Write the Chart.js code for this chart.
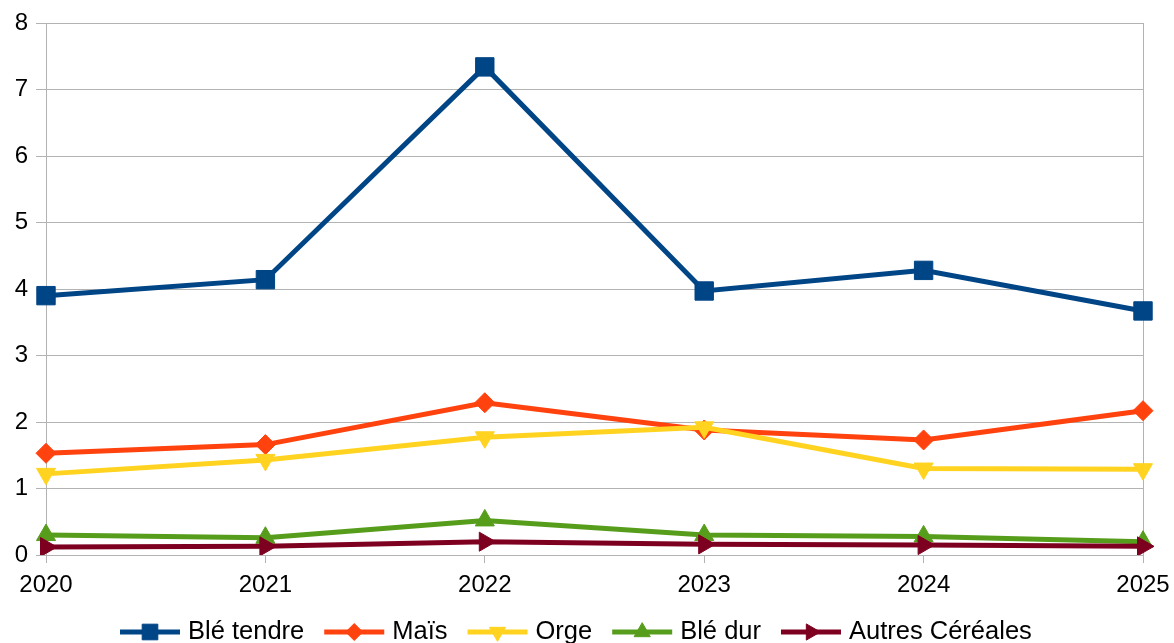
<!DOCTYPE html>
<html lang="fr">
<head>
<meta charset="utf-8">
<title>Céréales</title>
<script src="https://cdn.jsdelivr.net/npm/chart.js@4/dist/chart.umd.min.js"></script>
<style>
  html, body { margin: 0; padding: 0; background: #fff; }
  #wrap { width: 1174px; height: 643px; position: relative; }
</style>
</head>
<body>
<div id="wrap"><canvas id="chart"></canvas></div>
<script>
'use strict';

const years = ['2020', '2021', '2022', '2023', '2024', '2025'];
const bleTendre = [3.90, 4.14, 7.34, 3.97, 4.28, 3.67];
const mais = [1.53, 1.66, 2.29, 1.88, 1.73, 2.17];
const orge = [1.22, 1.43, 1.77, 1.92, 1.30, 1.29];
const bleDur = [0.30, 0.26, 0.52, 0.30, 0.28, 0.20];
const autres = [0.12, 0.13, 0.20, 0.16, 0.15, 0.13];

const seriesNames = ['Blé tendre', 'Maïs', 'Orge', 'Blé dur', 'Autres Céréales'];
const seriesColors = ['#004586', '#ff420e', '#ffd320', '#579d1c', '#7e0021'];
const markerStyles = [
  { style: 'rect', radius: 13, rotation: 0 },
  { style: 'rectRot', radius: 10, rotation: 0 },
  { style: 'triangle', radius: 11, rotation: 180 },
  { style: 'triangle', radius: 11, rotation: 0 },
  { style: 'triangle', radius: 11, rotation: 90 }
];

const FONT = "'Liberation Sans', Arial, sans-serif";
const GRID = '#b3b3b3';

// legend drawn by hand: line + marker, then the label
const legendPlugin = {
  id: 'lineLegend',
  afterDraw(chart) {
    const ctx = chart.ctx;
    const y = 632;
    let x = 120;
    ctx.save();
    ctx.font = '25.5px ' + FONT;
    ctx.textBaseline = 'middle';
    ctx.textAlign = 'left';
    chart.data.datasets.forEach((ds, i) => {
      ctx.strokeStyle = seriesColors[i];
      ctx.lineWidth = 5;
      ctx.beginPath();
      ctx.moveTo(x, y);
      ctx.lineTo(x + 60, y);
      ctx.stroke();
      ctx.fillStyle = seriesColors[i];
      ctx.lineWidth = 1;
      Chart.helpers.drawPoint(ctx, {
        pointStyle: markerStyles[i].style,
        radius: markerStyles[i].radius * 0.85,
        rotation: markerStyles[i].rotation,
        borderWidth: 1
      }, x + 30, y);
      ctx.fillStyle = '#000';
      ctx.fillText(ds.label, x + 68, y);
      x += 68 + ctx.measureText(ds.label).width + 20;
    });
    ctx.restore();
  }
};

const allData = [bleTendre, mais, orge, bleDur, autres];
const datasets = allData.map((d, i) => ({
  label: seriesNames[i],
  data: d,
  borderColor: seriesColors[i],
  backgroundColor: seriesColors[i],
  borderWidth: 5,
  pointStyle: markerStyles[i].style,
  pointRadius: markerStyles[i].radius,
  pointHoverRadius: markerStyles[i].radius,
  pointRotation: markerStyles[i].rotation,
  pointBorderWidth: 1,
  pointBackgroundColor: seriesColors[i],
  pointBorderColor: seriesColors[i],
  tension: 0,
  order: allData.length - i
}));

new Chart(document.getElementById('chart'), {
  type: 'line',
  data: { labels: years, datasets: datasets },
  options: {
    responsive: true,
    maintainAspectRatio: false,
    animation: false,
    layout: { padding: { top: 23, right: 31, left: 0, bottom: 38 } },
    plugins: {
      tooltip: { enabled: false },
      legend: { display: false }
    },
    scales: {
      x: {
        offset: false,
        grid: {
          color: c => (c.index === 0 || c.index === years.length - 1) ? GRID : 'rgba(0,0,0,0)',
          tickColor: GRID,
          tickLength: 8,
          lineWidth: 1
        },
        border: { display: true, color: GRID },
        ticks: { color: '#000', font: { family: FONT, size: 24 }, padding: 8, maxRotation: 0 },
        afterFit: s => { s.height = 50; s.paddingRight = 0; s.paddingLeft = 0; }
      },
      y: {
        min: 0,
        max: 8,
        grid: { color: GRID, tickColor: GRID, tickLength: 10 },
        border: { display: true, color: GRID },
        ticks: { stepSize: 1, color: '#000', font: { family: FONT, size: 24 }, padding: 8 },
        afterFit: s => { s.width = 46; }
      }
    }
  },
  plugins: [legendPlugin]
});
</script>
</body>
</html>
